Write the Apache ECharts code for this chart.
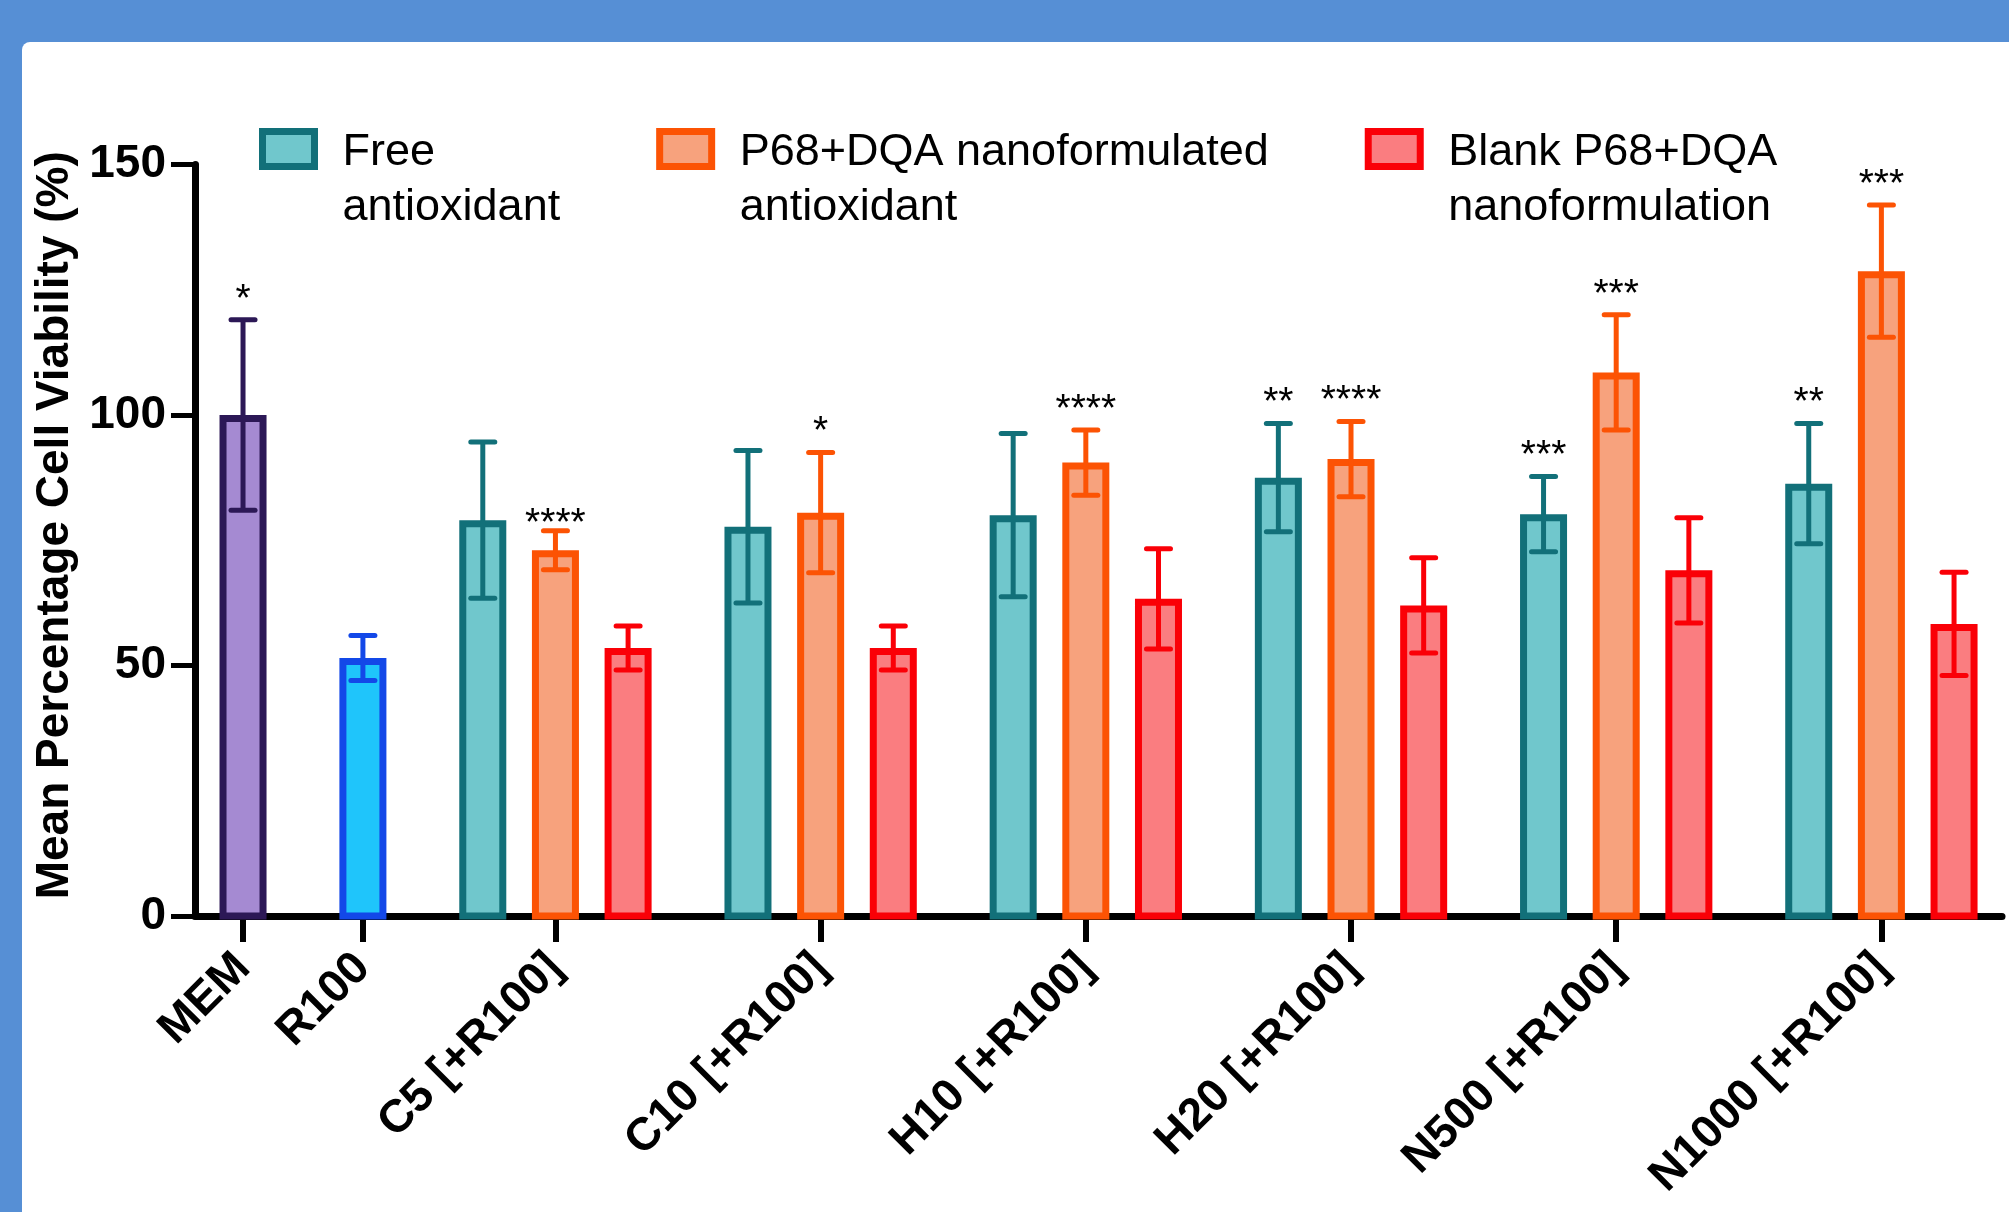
<!DOCTYPE html>
<html>
<head>
<meta charset="utf-8">
<script src="https://cdn.jsdelivr.net/npm/echarts@6/dist/echarts.min.js"></script>
<style>
  html, body { margin: 0; padding: 0; background: #568fd5; }
  #container { width: 2009px; height: 1212px; }
</style>
</head>
<body>
<div id="container"></div>
<script type="text/javascript">
// ---- data ----
var categories = ['MEM', 'R100', 'C5 [+R100]', 'C10 [+R100]', 'H10 [+R100]', 'H20 [+R100]', 'N500 [+R100]', 'N1000 [+R100]'];
var seriesNames = ['Free\nantioxidant', 'P68+DQA nanoformulated\nantioxidant', 'Blank P68+DQA\nnanoformulation'];

var controlMean = [100, 51.5];
var controlSd = [19, 4.5];
var controlStars = ['*', ''];

var freeMean = [79, 77.7, 80, 87.5, 80.2, 86.3];
var freeSd = [15.6, 15.2, 16.3, 10.8, 7.5, 12];
var freeStars = ['', '', '', '**', '***', '**'];

var nanoMean = [73, 80.5, 90.5, 91.2, 108.5, 128.7];
var nanoSd = [3.9, 12, 6.5, 7.5, 11.5, 13.2];
var nanoStars = ['****', '*', '****', '****', '***', '***'];

var blankMean = [53.5, 53.5, 63.3, 62, 69, 58.3];
var blankSd = [4.4, 4.4, 10, 9.5, 10.5, 10.3];
var blankStars = ['', '', '', '', '', ''];

var yTicks = [0, 50, 100, 150];

// ---- layout ----
var FONT = '"Liberation Sans", Arial, Helvetica, sans-serif';
var GAP = 1.65;      // space between single bars / groups, in bar pitch units
var BAR_W = 0.647;   // bar outer width, in bar pitch units
var BORDER = 7;
var ERR_W = 5;
var CAP = 12;
var STAR_GAP = 20;   // px between error cap and star centre
var STAR_GAP_NEAR = 6; // the C5 nano stars sit closer to their cap

// x position of each category (bar pitch units)
var centers = [0, GAP];
for (var g = 0; g < categories.length - 2; g++) {
    centers.push(2 * GAP + 1 + g * (2 + GAP));
}

function makeRender(fills, strokes, stars, starGap) {
    return function (params, api) {
        var i = params.dataIndex;
        var x = api.value(0), m = api.value(1), sd = api.value(2);
        var half = api.size([BAR_W, 0])[0] / 2;
        var top = api.coord([x, m]);
        var base = api.coord([x, 0]);
        var hi = api.coord([x, m + sd]);
        var lo = api.coord([x, m - sd]);
        var b = BORDER / 2;
        var stroke = strokes[i % strokes.length];
        var fill = fills[i % fills.length];
        var lineStyle = { stroke: stroke, lineWidth: ERR_W, lineCap: 'round' };
        var gap = starGap ? starGap(i) : STAR_GAP;
        return {
            type: 'group',
            children: [
                {
                    type: 'rect',
                    shape: { x: top[0] - half + b, y: top[1] + b, width: 2 * half - BORDER, height: base[1] - top[1] - b },
                    style: { fill: fill, stroke: stroke, lineWidth: BORDER }
                },
                { type: 'line', shape: { x1: hi[0], y1: hi[1], x2: lo[0], y2: lo[1] }, style: { stroke: stroke, lineWidth: ERR_W } },
                { type: 'line', shape: { x1: hi[0] - CAP, y1: hi[1], x2: hi[0] + CAP, y2: hi[1] }, style: lineStyle },
                { type: 'line', shape: { x1: lo[0] - CAP, y1: lo[1], x2: lo[0] + CAP, y2: lo[1] }, style: lineStyle },
                {
                    type: 'text', x: hi[0], y: hi[1] - gap,
                    style: { text: stars[i], font: '39px ' + FONT, fill: '#000', align: 'center', verticalAlign: 'middle' }
                }
            ]
        };
    };
}

function groupData(means, sds, slot) {
    return means.map(function (m, i) {
        return [centers[i + 2] + slot - 1, m, sds[i]];
    });
}

var dom = document.getElementById('container');
var myChart = echarts.init(dom);

var option = {
    animation: false,
    backgroundColor: '#568fd5',
    graphic: [{
        type: 'rect', z: -10, silent: true,
        shape: { x: 22, y: 42, width: 2000, height: 1180, r: [8, 0, 0, 0] },
        style: { fill: '#ffffff' }
    }],
    legend: {
        left: 259,
        top: 62.5,
        padding: 0,
        itemGap: 96,
        itemWidth: 52,
        itemHeight: 35,
        selectedMode: false,
        // an empty spacer line keeps the first text line level with the icon
        formatter: function (name) { return '{s| }\n' + name; },
        textStyle: {
            fontFamily: FONT, fontSize: 45, color: '#000', lineHeight: 55,
            padding: [0, 0, 0, 23],
            rich: { s: { fontSize: 10, lineHeight: 63 } }
        },
        data: [
            { name: seriesNames[0], icon: 'rect', itemStyle: { color: '#70c7cc', borderColor: '#127079', borderWidth: BORDER } },
            { name: seriesNames[1], icon: 'rect', itemStyle: { color: '#f7a27d', borderColor: '#fc5304', borderWidth: BORDER } },
            { name: seriesNames[2], icon: 'rect', itemStyle: { color: '#fa7d80', borderColor: '#fa0007', borderWidth: BORDER } }
        ]
    },
    grid: { left: 195, right: 7, top: 164.5, bottom: 296, containLabel: false },
    xAxis: {
        type: 'value',
        min: -0.661,
        max: 24.21,
        splitLine: { show: false },
        axisLine: { onZero: false, lineStyle: { color: '#000', width: 7 } },
        axisTick: { customValues: centers, length: 26, lineStyle: { color: '#000', width: 6 } },
        axisLabel: {
            customValues: centers,
            rotate: 45,
            margin: 45,
            fontFamily: FONT, fontSize: 46, fontWeight: 'bold', color: '#000',
            formatter: function (v) {
                for (var k = 0; k < centers.length; k++) {
                    if (Math.abs(centers[k] - v) < 1e-6) return categories[k];
                }
                return '';
            }
        }
    },
    yAxis: {
        type: 'value',
        min: yTicks[0],
        max: yTicks[yTicks.length - 1],
        interval: yTicks[1] - yTicks[0],
        splitLine: { show: false },
        axisLine: { show: true, onZero: false, lineStyle: { color: '#000', width: 7 } },
        axisTick: { show: true, length: 24, lineStyle: { color: '#000', width: 5 } },
        axisLabel: { margin: 29, fontFamily: FONT, fontSize: 46, fontWeight: 'bold', color: '#000' },
        name: 'Mean Percentage Cell Viability (%)',
        nameLocation: 'middle',
        nameGap: 115,
        nameTextStyle: { fontFamily: FONT, fontSize: 46, fontWeight: 'bold', color: '#000', padding: [0, 0, 0, 30] }
    },
    series: [
        {
            name: 'controls',
            type: 'custom',
            renderItem: makeRender(['#a58ad2', '#1fc5fb'], ['#2c1856', '#1348e8'], controlStars),
            data: controlMean.map(function (m, i) { return [centers[i], m, controlSd[i]]; })
        },
        {
            name: seriesNames[0],
            type: 'custom',
            itemStyle: { color: '#70c7cc', borderColor: '#127079' },
            renderItem: makeRender(['#70c7cc'], ['#127079'], freeStars),
            data: groupData(freeMean, freeSd, 0)
        },
        {
            name: seriesNames[1],
            type: 'custom',
            itemStyle: { color: '#f7a27d', borderColor: '#fc5304' },
            renderItem: makeRender(['#f7a27d'], ['#fc5304'], nanoStars, function (i) { return i === 0 ? STAR_GAP_NEAR : STAR_GAP; }),
            data: groupData(nanoMean, nanoSd, 1)
        },
        {
            name: seriesNames[2],
            type: 'custom',
            itemStyle: { color: '#fa7d80', borderColor: '#fa0007' },
            renderItem: makeRender(['#fa7d80'], ['#fa0007'], blankStars),
            data: groupData(blankMean, blankSd, 2)
        }
    ]
};

if (option && typeof option === 'object') {
    myChart.setOption(option);
}
</script>
</body>
</html>
